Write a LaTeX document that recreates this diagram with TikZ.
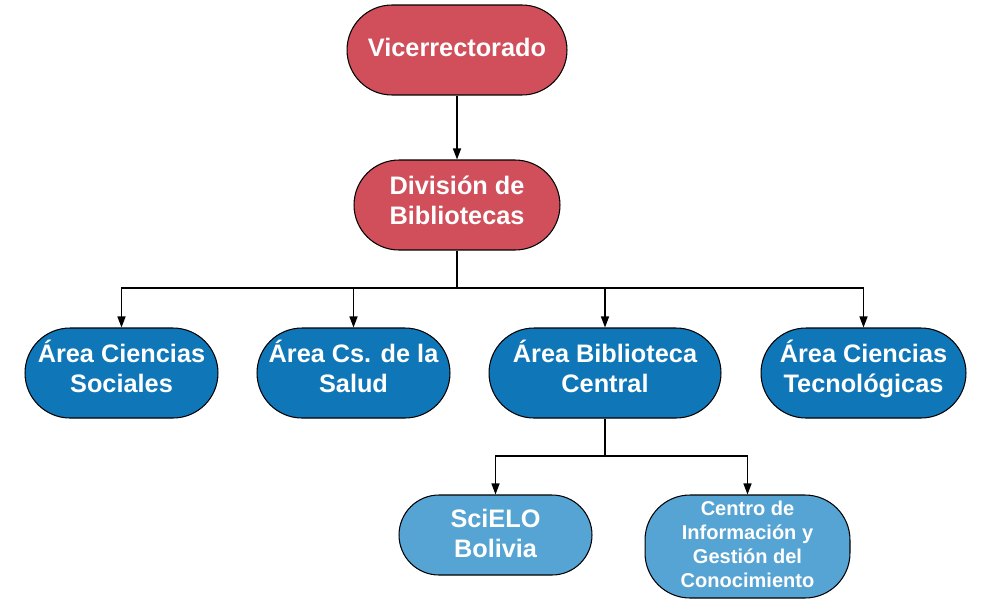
\documentclass[tikz,border=0pt]{standalone}
\usepackage{fontspec}
\setmainfont{Liberation Sans}
\usetikzlibrary{arrows.meta}
\definecolor{rojo}{HTML}{D14E5B}
\definecolor{azul}{HTML}{0F77B8}
\definecolor{celeste}{HTML}{56A4D3}
\begin{document}
\begin{tikzpicture}[x=0.02cm, y=-0.02cm,
		unidad/.style={draw, line width=0.6pt, rounded corners=0.9cm, minimum height=1.8cm, inner sep=0pt, align=center, text=white, text height=27.3pt, text depth=5pt, font=\bfseries\fontsize{14.4}{17}\selectfont},
		arriba/.style={unidad, fill=rojo},
		area/.style={unidad, fill=azul},
		sub/.style={unidad, fill=celeste},
		flecha/.style={line width=0.8pt, -{Triangle[width=1.6mm, length=2.2mm]}},
		linea/.style={line width=0.8pt}]
		\useasboundingbox (0,0) rectangle (1000,609);
		\node[arriba, minimum width=4.4cm, text height=10.3pt, text depth=3.4pt] (vice) at (457,50) {Vicerrectorado};
		\node[arriba, minimum width=4.12cm] (div) at (457,205) {División de\\Bibliotecas};
		\node[area, minimum width=3.86cm] (soc) at (121.5,373) {Área Ciencias\\Sociales};
		\node[area, minimum width=3.86cm] (sal) at (353.5,373) {Área Cs. de la\\Salud};
		\node[area, minimum width=4.64cm] (cen) at (605,373) {Área Biblioteca\\Central};
		\node[area, minimum width=4.1cm] (tec) at (863.5,373) {Área Ciencias\\Tecnológicas};
		\node[sub, minimum width=3.86cm, minimum height=1.6cm, rounded corners=0.8cm, text depth=2.2pt] (sci) at (495.5,535) {SciELO\\Bolivia};
		\node[sub, minimum width=4.1cm, minimum height=2.06cm, text height=49.3pt, text depth=2.8pt, font=\bfseries\fontsize{11.4}{13.7}\selectfont] (cgc) at (747.5,546.5) {Centro de\\Información y\\Gestión del\\Conocimiento};
		\coordinate (bus) at (457,288);
		\coordinate (bus2) at (605,456);
		\draw[flecha] (vice) -- (div);
		\draw[linea] (div) -- (bus);
		\draw[flecha] (bus) -| (soc);
		\draw[flecha] (bus) -| (sal);
		\draw[flecha] (bus) -| (cen);
		\draw[flecha] (bus) -| (tec);
		\draw[linea] (cen) -- (bus2);
		\draw[flecha] (bus2) -| (sci);
		\draw[flecha] (bus2) -| (cgc);
	\end{tikzpicture}
\end{document}
